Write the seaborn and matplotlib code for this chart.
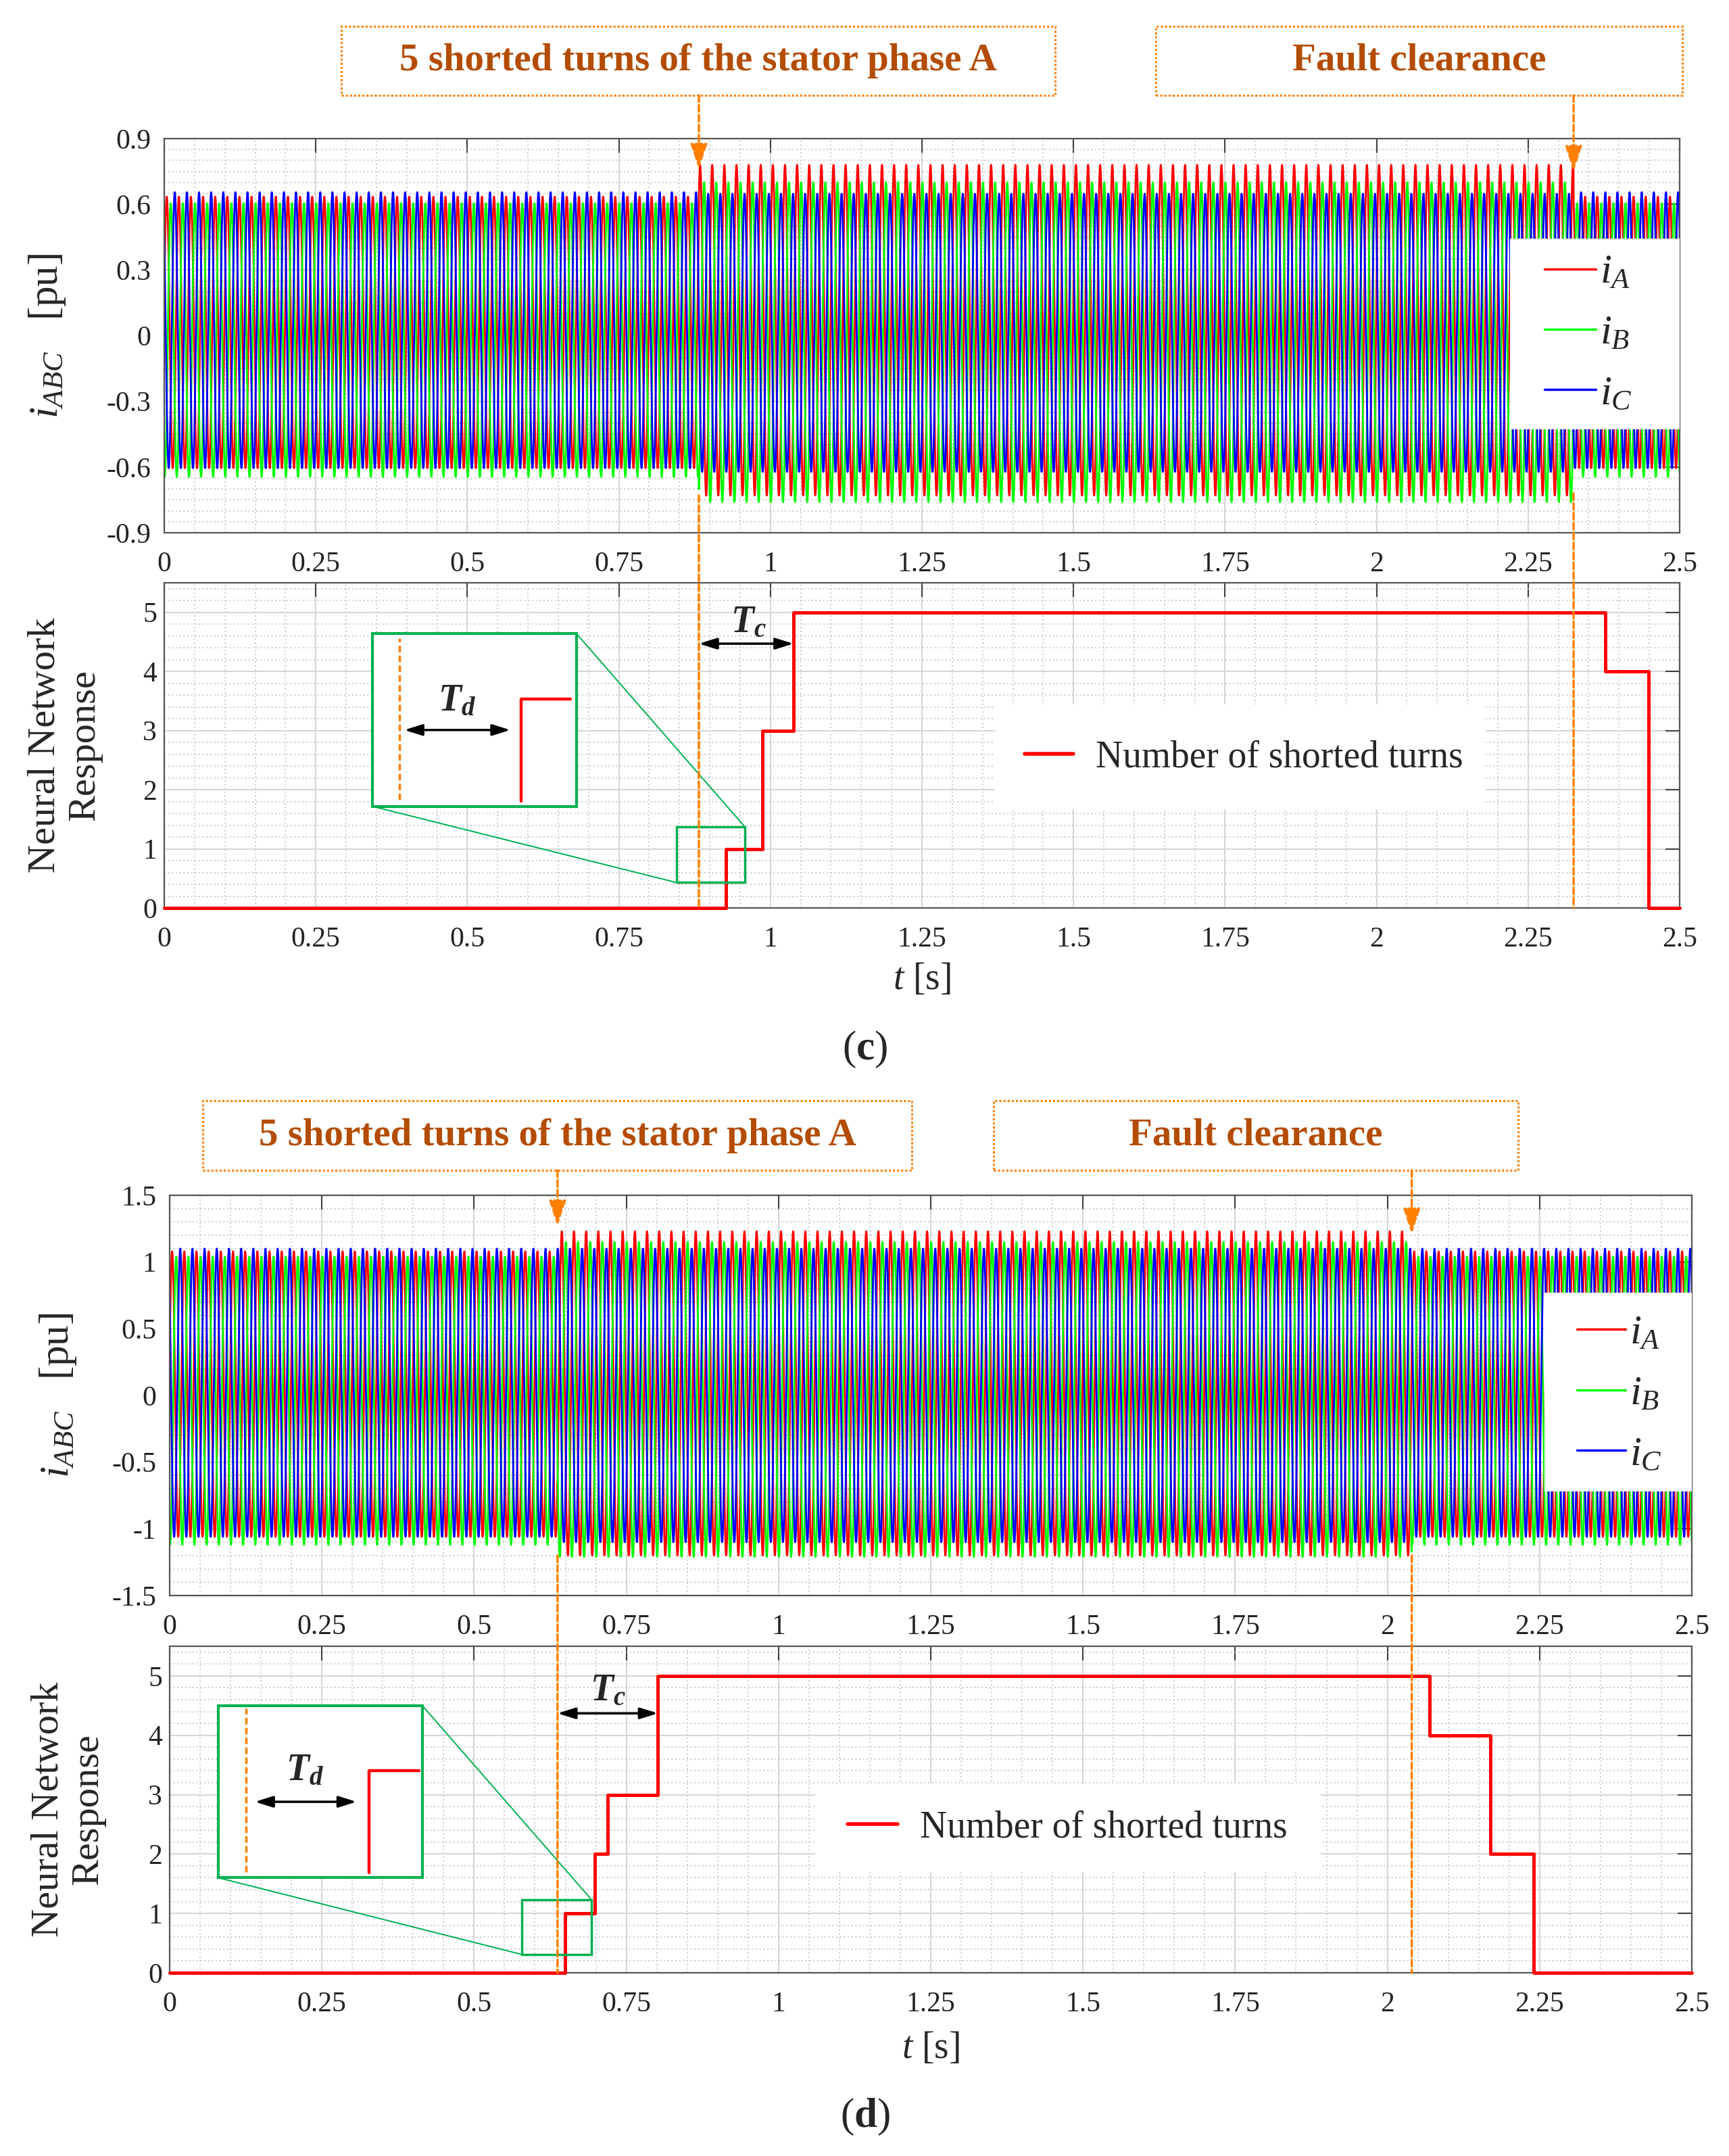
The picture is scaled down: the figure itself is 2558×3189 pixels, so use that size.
import numpy as np
import pandas as pd
import matplotlib
matplotlib.use("Agg")
import matplotlib.pyplot as plt
import seaborn as sns
from matplotlib.ticker import MultipleLocator, FuncFormatter, FixedLocator
from matplotlib.patches import Rectangle, ConnectionPatch
from matplotlib.lines import Line2D

# ---------------- DATA ----------------
freq_hz = 50.0
phase_names = ["iA", "iB", "iC"]
phase_colors = ["#FF0000", "#00FF00", "#0000FF"]

# panel (c): event times and per-phase amplitudes / offsets
c_fault_t = 0.882
c_clear_t = 2.325
c_amp_healthy = [0.62, 0.625, 0.63]
c_off_healthy = [0.015, -0.02, 0.025]
c_amp_fault = [0.755, 0.73, 0.635]
c_off_fault = [0.025, -0.03, 0.013]
c_step_t = [0.0, 0.927, 0.987, 1.038, 2.377, 2.449, 2.5]
c_step_n = [0, 1, 3, 5, 4, 0, 0]

# panel (d)
d_fault_t = 0.637
d_clear_t = 2.04
d_amp_healthy = [1.07, 1.08, 1.08]
d_off_healthy = [0.01, -0.04, 0.02]
d_amp_fault = [1.215, 1.18, 1.10]
d_off_fault = [0.015, -0.03, 0.0]
d_step_t = [0.0, 0.649, 0.698, 0.719, 0.802, 2.069, 2.169, 2.240, 2.5]
d_step_n = [0, 1, 2, 3, 5, 4, 2, 0, 0]

x_ticks = [0, 0.25, 0.5, 0.75, 1, 1.25, 1.5, 1.75, 2, 2.25, 2.5]
c_cur_yticks = [-0.9, -0.6, -0.3, 0, 0.3, 0.6, 0.9]
d_cur_yticks = [-1.5, -1, -0.5, 0, 0.5, 1, 1.5]
nn_yticks = [0, 1, 2, 3, 4, 5]

fault_text = "5 shorted turns of the stator phase A"
clear_text = "Fault clearance"
legend_nn = "Number of shorted turns"

# ---------------- STYLE ----------------
sns.set_style("white")
plt.rcParams["font.family"] = ["Liberation Serif", "DejaVu Serif"]
plt.rcParams["mathtext.fontset"] = "custom"
plt.rcParams["mathtext.rm"] = "Liberation Serif"
plt.rcParams["mathtext.it"] = "Liberation Serif:italic"
plt.rcParams["mathtext.bf"] = "Liberation Serif:italic:bold"
plt.rcParams["mathtext.sf"] = "Liberation Serif:bold"
plt.rcParams["axes.unicode_minus"] = False

ORANGE = "#FF7F00"
BROWN = "#B44C00"
GREEN = "#00B050"
DASH = (0, (2.8, 1.4))

W, H = 2558, 3189
fig = plt.figure(figsize=(W / 100, H / 100), dpi=100)


def fx(px):
    return px / W


def fy(py):
    return 1 - py / H


def add_ax(L, T, R, B):
    return fig.add_axes([fx(L), fy(B), (R - L) / W, (B - T) / H])


fmt = FuncFormatter(lambda v, p: ("%g" % v))


def style_ax(ax, yticks, ymin_step, ypad):
    ax.set_xlim(0, 2.5)
    ax.xaxis.set_major_locator(FixedLocator(x_ticks))
    ax.yaxis.set_major_locator(FixedLocator(yticks))
    ax.xaxis.set_minor_locator(MultipleLocator(0.05))
    ax.yaxis.set_minor_locator(MultipleLocator(ymin_step))
    ax.xaxis.set_major_formatter(fmt)
    ax.yaxis.set_major_formatter(fmt)
    ax.set_axisbelow(True)
    ax.grid(which="major", color="#D6D6D6", lw=1.5, ls="-")
    ax.grid(which="minor", color="#C4C4C4", lw=1.2, ls=(0, (1.2, 2.2)))
    ax.tick_params(which="major", direction="in", top=True, right=True,
                   length=15, width=1.5, color="#404040", labelsize=30,
                   labelcolor="#222222")
    ax.tick_params(axis="x", which="major", pad=20)
    ax.tick_params(axis="y", which="major", pad=ypad)
    ax.tick_params(which="minor", length=0)
    for s in ax.spines.values():
        s.set_color("#555555")
        s.set_linewidth(1.6)


def currents_frame(amp_h, off_h, amp_f, off_f, t_fault, t_clear):
    t = np.linspace(0, 2.5, 25001)
    frames = []
    for k, name in enumerate(phase_names):
        in_fault = (t >= t_fault) & (t < t_clear)
        amp = np.where(in_fault, amp_f[k], amp_h[k])
        off = np.where(in_fault, off_f[k], off_h[k])
        i = off + amp * np.sin(2 * np.pi * freq_hz * t + 0.3 - 2 * np.pi * k / 3)
        frames.append(pd.DataFrame({"t": t, "i": i, "phase": name}))
    return pd.concat(frames, ignore_index=True)


def draw_panel(top_box, bot_box, amps, t_fault, t_clear, step_t, step_n,
               cur_yticks, cur_minor, cur_lim, arrow_tips, line_start,
               boxes_px, cur_label_x, nn_label_x, xlabel_y,
               cur_leg, nn_leg, tc, inset):
    ax1 = add_ax(*top_box)
    ax2 = add_ax(*bot_box)

    df = currents_frame(*amps, t_fault, t_clear)
    sns.lineplot(data=df, x="t", y="i", hue="phase", hue_order=phase_names,
                 palette=dict(zip(phase_names, phase_colors)), estimator=None,
                 sort=False, legend=False, lw=2.0, ax=ax1)
    ax1.set_ylim(*cur_lim)
    style_ax(ax1, cur_yticks, cur_minor, 14)
    ax1.set_xlabel("")
    ax1.set_ylabel(r"$i_{ABC}$   [pu]", fontsize=44)
    ax1.yaxis.set_label_coords(cur_label_x, 0.5)

    # legend of currents on a white patch
    (rx0, ry0, rx1, ry1), (hx, hy, hl) = cur_leg
    ax1.add_patch(Rectangle((rx0, ry0), rx1 - rx0, ry1 - ry0, transform=ax1.transAxes,
                            facecolor="white", edgecolor="none", zorder=3))
    handles = [Line2D([], [], color=c, lw=2.5) for c in phase_colors]
    lg = ax1.legend(handles, [r"$i_A$", r"$i_B$", r"$i_C$"], loc="center left",
                    bbox_to_anchor=(hx, hy), frameon=False, fontsize=44,
                    handlelength=hl, handletextpad=0.1, labelspacing=0.55,
                    borderpad=0, borderaxespad=0)
    lg.set_zorder(5)

    # step response
    sns.lineplot(x=step_t, y=step_n, drawstyle="steps-post", estimator=None,
                 sort=False, color="#FF0000", lw=3.6, ax=ax2, clip_on=False, zorder=4)
    ax2.set_ylim(0, 5.5)
    style_ax(ax2, nn_yticks, 0.2, 8)
    ax2.set_ylabel("Neural Network\nResponse", fontsize=42, linespacing=1.15)
    ax2.yaxis.set_label_coords(nn_label_x, 0.5)
    ax2.set_xlabel(r"$t$ [s]", fontsize=40)
    ax2.xaxis.set_label_coords(0.5, xlabel_y)

    # NN legend on white patch (data coords)
    (lx0, ly0, lx1, ly1), (nhx, nhy, nhl) = nn_leg
    ax2.add_patch(Rectangle((lx0, ly0), lx1 - lx0, ly1 - ly0, facecolor="white",
                            edgecolor="none", zorder=3))
    lg2 = ax2.legend([Line2D([], [], color="#FF0000", lw=4)], [legend_nn],
                     loc="center left", bbox_to_anchor=(nhx, nhy), frameon=False,
                     fontsize=40, handlelength=nhl, handletextpad=0.6,
                     borderpad=0, borderaxespad=0)
    lg2.set_zorder(5)

    # annotation boxes with text
    for (x0, y0, x1, y1), txt in zip(boxes_px, [fault_text, clear_text]):
        fig.add_artist(Rectangle((fx(x0), fy(y1)), (x1 - x0) / W, (y1 - y0) / H,
                                 transform=fig.transFigure, fill=False,
                                 edgecolor=ORANGE, lw=2.2, ls=(0, (1, 1))))
        fig.text(fx((x0 + x1) / 2), fy((y0 + y1) / 2), txt, ha="center",
                 va="center", fontsize=41, fontweight="bold", color=BROWN)

    # arrows from boxes into the current plot, and dashed markers below
    box_bottom = boxes_px[0][3]
    for tx, ytip, ys in zip([t_fault, t_clear], arrow_tips, line_start):
        ax1.annotate("", xy=(tx, ytip), xycoords="data",
                     xytext=(tx, fy(box_bottom)), textcoords=("data", "figure fraction"),
                     arrowprops=dict(arrowstyle="-|>,head_length=1.15,head_width=0.38",
                                     color=ORANGE, lw=2.5, ls=DASH, mutation_scale=20,
                                     shrinkA=0, shrinkB=0),
                     annotation_clip=False, zorder=6)
        con = ConnectionPatch(xyA=(tx, ys), coordsA="data", axesA=ax1,
                              xyB=(tx, 0), coordsB="data", axesB=ax2,
                              color=ORANGE, lw=2.5, ls=DASH, zorder=6)
        fig.add_artist(con)

    # Tc arrow
    (tcx1, tcy, tlx, tly) = tc
    ax2.annotate("", xy=(tcx1, tcy), xytext=(t_fault, tcy),
                 arrowprops=dict(arrowstyle="<|-|>,head_length=0.8,head_width=0.25",
                                 color="black", lw=2.5, mutation_scale=20,
                                 shrinkA=0, shrinkB=0), zorder=6)
    ax2.text(tlx, tly, r"$\mathbf{T}_{\mathbf{c}}$", fontsize=40, ha="center",
             va="center", zorder=6)

    # zoom inset (drawn by hand)
    (bx0, by0, bx1, by1), (sx0, sy0, sx1, sy1), dash_x, dash_y, stp, arr, tdl = inset
    ax2.add_patch(Rectangle((bx0, by0), bx1 - bx0, by1 - by0, facecolor="white",
                            edgecolor=GREEN, lw=3, zorder=5))
    ax2.add_patch(Rectangle((sx0, sy0), sx1 - sx0, sy1 - sy0, fill=False,
                            edgecolor=GREEN, lw=2.5, zorder=5))
    ax2.plot([sx1, bx1], [sy1, by1], color=GREEN, lw=1.4, zorder=5)
    ax2.plot([sx0, bx0], [sy0, by0], color=GREEN, lw=1.4, zorder=5)
    ax2.plot([dash_x, dash_x], dash_y, color=ORANGE, lw=2.5, ls=DASH, zorder=6)
    ax2.plot([stp[0], stp[0], stp[3]], [stp[1], stp[2], stp[2]], color="#FF0000",
             lw=3.2, zorder=6)
    ax2.annotate("", xy=(arr[1], arr[2]), xytext=(arr[0], arr[2]),
                 arrowprops=dict(arrowstyle="<|-|>,head_length=0.8,head_width=0.25",
                                 color="black", lw=2.5, mutation_scale=20,
                                 shrinkA=0, shrinkB=0), zorder=7)
    ax2.text(tdl[0], tdl[1], r"$\mathbf{T}_{\mathbf{d}}$", fontsize=40, ha="center",
             va="center", zorder=7)
    return ax1, ax2


# ---------------- panel (c) ----------------
draw_panel(top_box=(243, 205, 2485, 788), bot_box=(243, 862, 2485, 1343),
           amps=(c_amp_healthy, c_off_healthy, c_amp_fault, c_off_fault),
           t_fault=c_fault_t, t_clear=c_clear_t, step_t=c_step_t, step_n=c_step_n,
           cur_yticks=c_cur_yticks, cur_minor=0.05, cur_lim=(-0.9, 0.9),
           arrow_tips=[0.76, 0.75], line_start=[-0.73, -0.72],
           boxes_px=[(505, 39, 1561, 141), (1710, 39, 2489, 141)],
           cur_label_x=-0.064, nn_label_x=-0.041, xlabel_y=-0.166,
           cur_leg=((0.888, 0.263, 1.0, 0.746), (0.911, 0.505, 1.23)),
           nn_leg=((1.37, 1.67, 2.18, 3.44), (0.568, 0.462, 1.28)),
           tc=(1.038, 4.47, 0.964, 4.82),
           inset=((0.343, 1.72, 0.68, 4.64), (0.845, 0.43, 0.958, 1.37), 0.388,
                  [1.83, 4.56], (0.589, 1.81, 3.53, 0.67), (0.396, 0.571, 3.01),
                  (0.483, 3.5)))
fig.text(fx(1280), fy(1552), r"($\mathsf{c}$)", ha="center", va="center", fontsize=44)

# ---------------- panel (d) ----------------
draw_panel(top_box=(251, 1768, 2503, 2360), bot_box=(251, 2435, 2503, 2918),
           amps=(d_amp_healthy, d_off_healthy, d_amp_fault, d_off_fault),
           t_fault=d_fault_t, t_clear=d_clear_t, step_t=d_step_t, step_n=d_step_n,
           cur_yticks=d_cur_yticks, cur_minor=0.1, cur_lim=(-1.5, 1.5),
           arrow_tips=[1.27, 1.21], line_start=[-1.2, -1.2],
           boxes_px=[(300, 1628, 1349, 1731), (1470, 1628, 2246, 1731)],
           cur_label_x=-0.060, nn_label_x=-0.042, xlabel_y=-0.178,
           cur_leg=((0.903, 0.26, 1.0, 0.757), (0.9245, 0.503, 1.18)),
           nn_leg=((1.06, 1.7, 1.89, 3.19), (0.4454, 0.445, 1.33)),
           tc=(0.802, 4.37, 0.72, 4.75),
           inset=((0.08, 1.6, 0.415, 4.5), (0.578, 0.31, 0.693, 1.23), 0.125,
                  [1.7, 4.45], (0.327, 1.68, 3.40, 0.41), (0.14, 0.307, 2.88),
                  (0.222, 3.4)))
fig.text(fx(1280), fy(3131), r"($\mathsf{d}$)", ha="center", va="center", fontsize=44)

fig.savefig("out.png", dpi=100, facecolor="white")
